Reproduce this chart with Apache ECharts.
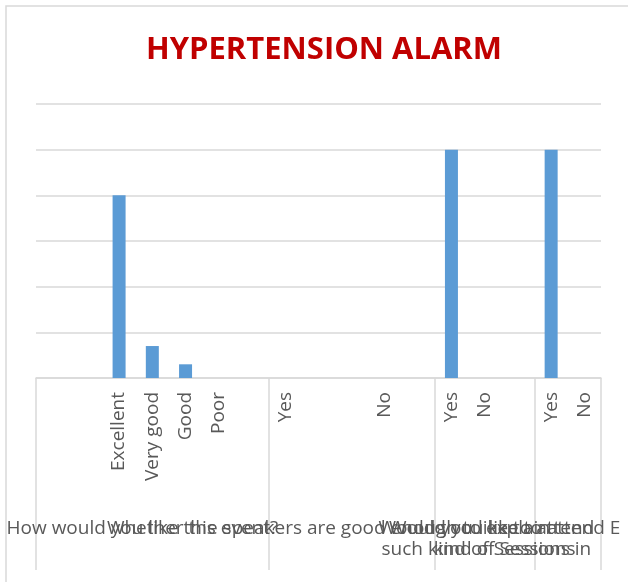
<!DOCTYPE html>
<html lang="en">
<head>
    <meta charset="utf-8">
    <title>Hypertension Alarm</title>
    <script src="https://cdn.jsdelivr.net/npm/echarts@6/dist/echarts.min.js"></script>
    <style>
        html, body { margin: 0; padding: 0; background: #fff; }
    </style>
</head>
<body>
    <div id="main" style="width: 628px;height:582px;"></div>
<script type="text/javascript">
    // answer categories (blank slots are the empty spacing Excel keeps)
    var categories = ['', '', 'Excellent', 'Very good', 'Good', 'Poor', '', 'Yes', '', '', 'No', '', 'Yes', 'No', '', 'Yes', 'No'];
    var counts = [null, null, 80, 14, 6, 0, null, 0, null, null, 0, null, 100, 0, null, 100, 0];

    // question groups: boundaries (in category slots) and label positions
    var groupEdges = [0, 7, 12, 15, 17];
    var groupCenters = [3.2, 8.8, 13.55, 14.1];
    var groupNames = [
        'How would you like this event?',
        'Whether the speakers are good enough to explain',
        'Would you like to attend\nsuch kind of Sessions in',
        'Would you like to attend E\nkind of Sessions'
    ];

    var yMax = 120;
    var yStep = 20;

    var myChart = echarts.init(document.getElementById('main'));

    // one bottom value axis per question label, so overlapping labels all stay visible
    var groupAxes = groupNames.map(function (name, i) {
        return {
            type: 'value',
            position: 'bottom',
            min: 0,
            max: categories.length,
            axisLine: { show: false },
            splitLine: { show: false },
            axisTick: {
                show: i === 0,
                customValues: groupEdges,
                length: 192,
                lineStyle: { color: '#d9d9d9', width: 1.5 }
            },
            axisLabel: {
                customValues: [groupCenters[i]],
                hideOverlap: false,
                margin: 140,
                color: '#595959',
                fontFamily: 'Open Sans',
                fontSize: 19,
                lineHeight: 21,
                formatter: function () {
                    return name;
                }
            }
        };
    });

    var option = {
        animation: false,
        title: {
            text: 'HYPERTENSION ALARM',
            left: 319,
            top: 30,
            textAlign: 'center',
            textStyle: {
                color: '#C00000',
                fontFamily: 'Open Sans',
                fontWeight: 'bold',
                fontSize: 31
            }
        },
        graphic: [{
            // chart frame
            type: 'rect',
            shape: { x: 6, y: 6, width: 700, height: 700 },
            style: { fill: 'none', stroke: '#d9d9d9', lineWidth: 1.5 },
            silent: true
        }],
        grid: {
            left: 36,
            right: 27,
            top: 104,
            bottom: 204
        },
        xAxis: [{
            type: 'category',
            data: categories,
            axisLine: { lineStyle: { color: '#d9d9d9', width: 1.5 } },
            axisTick: { show: false },
            axisLabel: {
                interval: 0,
                rotate: 90,
                margin: 14,
                color: '#595959',
                fontFamily: 'Open Sans',
                fontSize: 19
            }
        }].concat(groupAxes),
        yAxis: {
            type: 'value',
            min: 0,
            max: yMax,
            interval: yStep,
            axisLine: { show: false },
            axisTick: { show: false },
            axisLabel: { show: false },
            splitLine: { lineStyle: { color: '#d9d9d9', width: 1.5 } }
        },
        series: [{
            type: 'bar',
            xAxisIndex: 0,
            data: counts,
            barWidth: 13,
            itemStyle: { color: '#5B9BD5' }
        }]
    };

    myChart.setOption(option);
</script>
</body>
</html>
